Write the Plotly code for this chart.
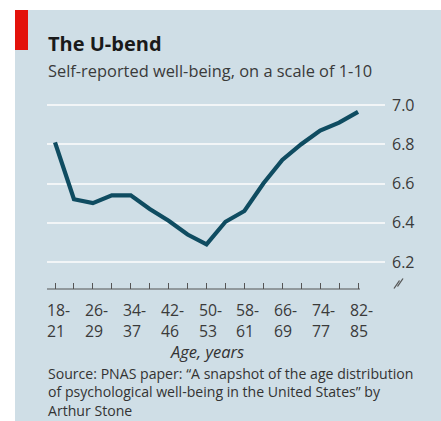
import plotly.graph_objects as go

# ---------------- data ----------------
age_bands = ["18-21", "22-25", "26-29", "30-33", "34-37", "38-41", "42-46", "46-49",
             "50-53", "54-57", "58-61", "62-65", "66-69", "70-73", "74-77", "78-81", "82-85"]
wellbeing = [6.81, 6.52, 6.50, 6.54, 6.54, 6.47, 6.41, 6.34,
             6.29, 6.405, 6.46, 6.60, 6.72, 6.80, 6.87, 6.91, 6.965]
y_ticks = [6.2, 6.4, 6.6, 6.8, 7.0]
label_every = 2

title = "The U-bend"
subtitle = "Self-reported well-being, on a scale of 1-10"
x_title = "Age, years"
source = ("Source: PNAS paper: \u201cA snapshot of the age distribution<br>"
          "of psychological well-being in the United States\u201d by<br>"
          "Arthur Stone")

# ---------------- layout geometry ----------------
W, H = 441, 421
L, R, T, B = 47, 385, 95, 289          # plot area in pixels
FONT = "Open Sans"
BG = "#cfdee6"
LINE = "#0f4c61"
TXT = "#333333"

def px(x):  # pixel -> paper x
    return (x - L) / (R - L)

def py(y):  # pixel -> paper y
    return (B - y) / (B - T)

xs = list(range(len(age_bands)))
step = (R - L) / 17.846
x_lo = -(55 - L) / step
x_hi = x_lo + (R - L) / step
per_unit = (262 - 105) / 0.8
y_hi = 7.0 + (105 - T) / per_unit
y_lo = 7.0 - (B - 105) / per_unit

fig = go.Figure()
fig.add_trace(go.Scatter(x=xs, y=wellbeing, mode="lines",
                         line=dict(color=LINE, width=4.2, shape="linear"),
                         hoverinfo="skip", showlegend=False))

shapes = [
    # white outer strips
    dict(type="rect", xref="paper", yref="paper", x0=px(0), x1=px(W), y0=py(10), y1=py(0),
         fillcolor="white", line=dict(width=0), layer="above"),
    dict(type="rect", xref="paper", yref="paper", x0=px(0), x1=px(15), y0=py(H), y1=py(0),
         fillcolor="white", line=dict(width=0), layer="above"),
    # red bar
    dict(type="rect", xref="paper", yref="paper", x0=px(15), x1=px(28), y0=py(50), y1=py(10),
         fillcolor="#e3120b", line=dict(width=0), layer="above"),
    # x axis line
    dict(type="line", xref="x", yref="paper", x0=x_lo, x1=16.1, y0=0, y1=0,
         line=dict(color="#555555", width=1.2), layer="above"),
    # axis break symbol
    dict(type="line", xref="paper", yref="paper", x0=px(394), x1=px(399.5), y0=py(288.5), y1=py(280.5),
         line=dict(color="#555555", width=1.3), layer="above"),
    dict(type="line", xref="paper", yref="paper", x0=px(397.5), x1=px(403), y0=py(286.5), y1=py(278.5),
         line=dict(color="#555555", width=1.3), layer="above"),
]

ann = [
    dict(text="<b>" + title + "</b>", x=px(46), y=py(43), xanchor="left", yanchor="middle",
         font=dict(family=FONT, size=20, color="#1a1a1a")),
    dict(text=subtitle, x=px(46), y=py(70), xanchor="left", yanchor="middle",
         font=dict(family=FONT, size=16.4, color="#3a3a3a")),
    dict(text=x_title, x=px(207), y=py(351), xanchor="center", yanchor="middle",
         font=dict(family=FONT, size=16.5, color=TXT, style="italic")),
    dict(text=source, x=px(46), y=py(392), xanchor="left", yanchor="middle", align="left",
         font=dict(family=FONT, size=14.1, color=TXT)),
]
for a in ann:
    a.update(xref="paper", yref="paper", showarrow=False)

for i in range(0, len(age_bands), label_every):
    top, bottom = age_bands[i].split("-")
    ann.append(dict(text=top + "-<br>" + bottom, xref="x", yref="paper", x=xs[i], y=py(320),
                    xanchor="left", yanchor="middle", align="left", xshift=-10, showarrow=False,
                    font=dict(family=FONT, size=15.8, color="#3a3a3a")))

fig.update_layout(
    width=W, height=H,
    margin=dict(l=L, r=W - R, t=T, b=H - B, pad=0),
    paper_bgcolor=BG, plot_bgcolor=BG,
    shapes=shapes, annotations=ann,
    xaxis=dict(range=[x_lo, x_hi], tickvals=xs, showticklabels=False,
               ticks="inside", ticklen=6, tickwidth=1.2, tickcolor="#555555",
               showgrid=False, zeroline=False, showline=False, fixedrange=True),
    yaxis=dict(range=[y_lo, y_hi], side="right", tickvals=y_ticks, tickformat=".1f",
               ticks="", showgrid=True, gridcolor="#f2f5f7", gridwidth=1.6,
               zeroline=False, showline=False, ticklabelstandoff=6,
               tickfont=dict(family=FONT, size=16, color="#3a3a3a"), fixedrange=True),
    showlegend=False,
    hovermode=False,
)

post = ("document.body.style.margin='0';"
        "document.body.style.overflow='hidden';"
        "document.documentElement.style.overflow='hidden';"
        "document.body.style.background='" + BG + "';"
        "document.documentElement.style.background='" + BG + "';")

fig.write_html("out.html", config={"displayModeBar": False}, post_script=post)
